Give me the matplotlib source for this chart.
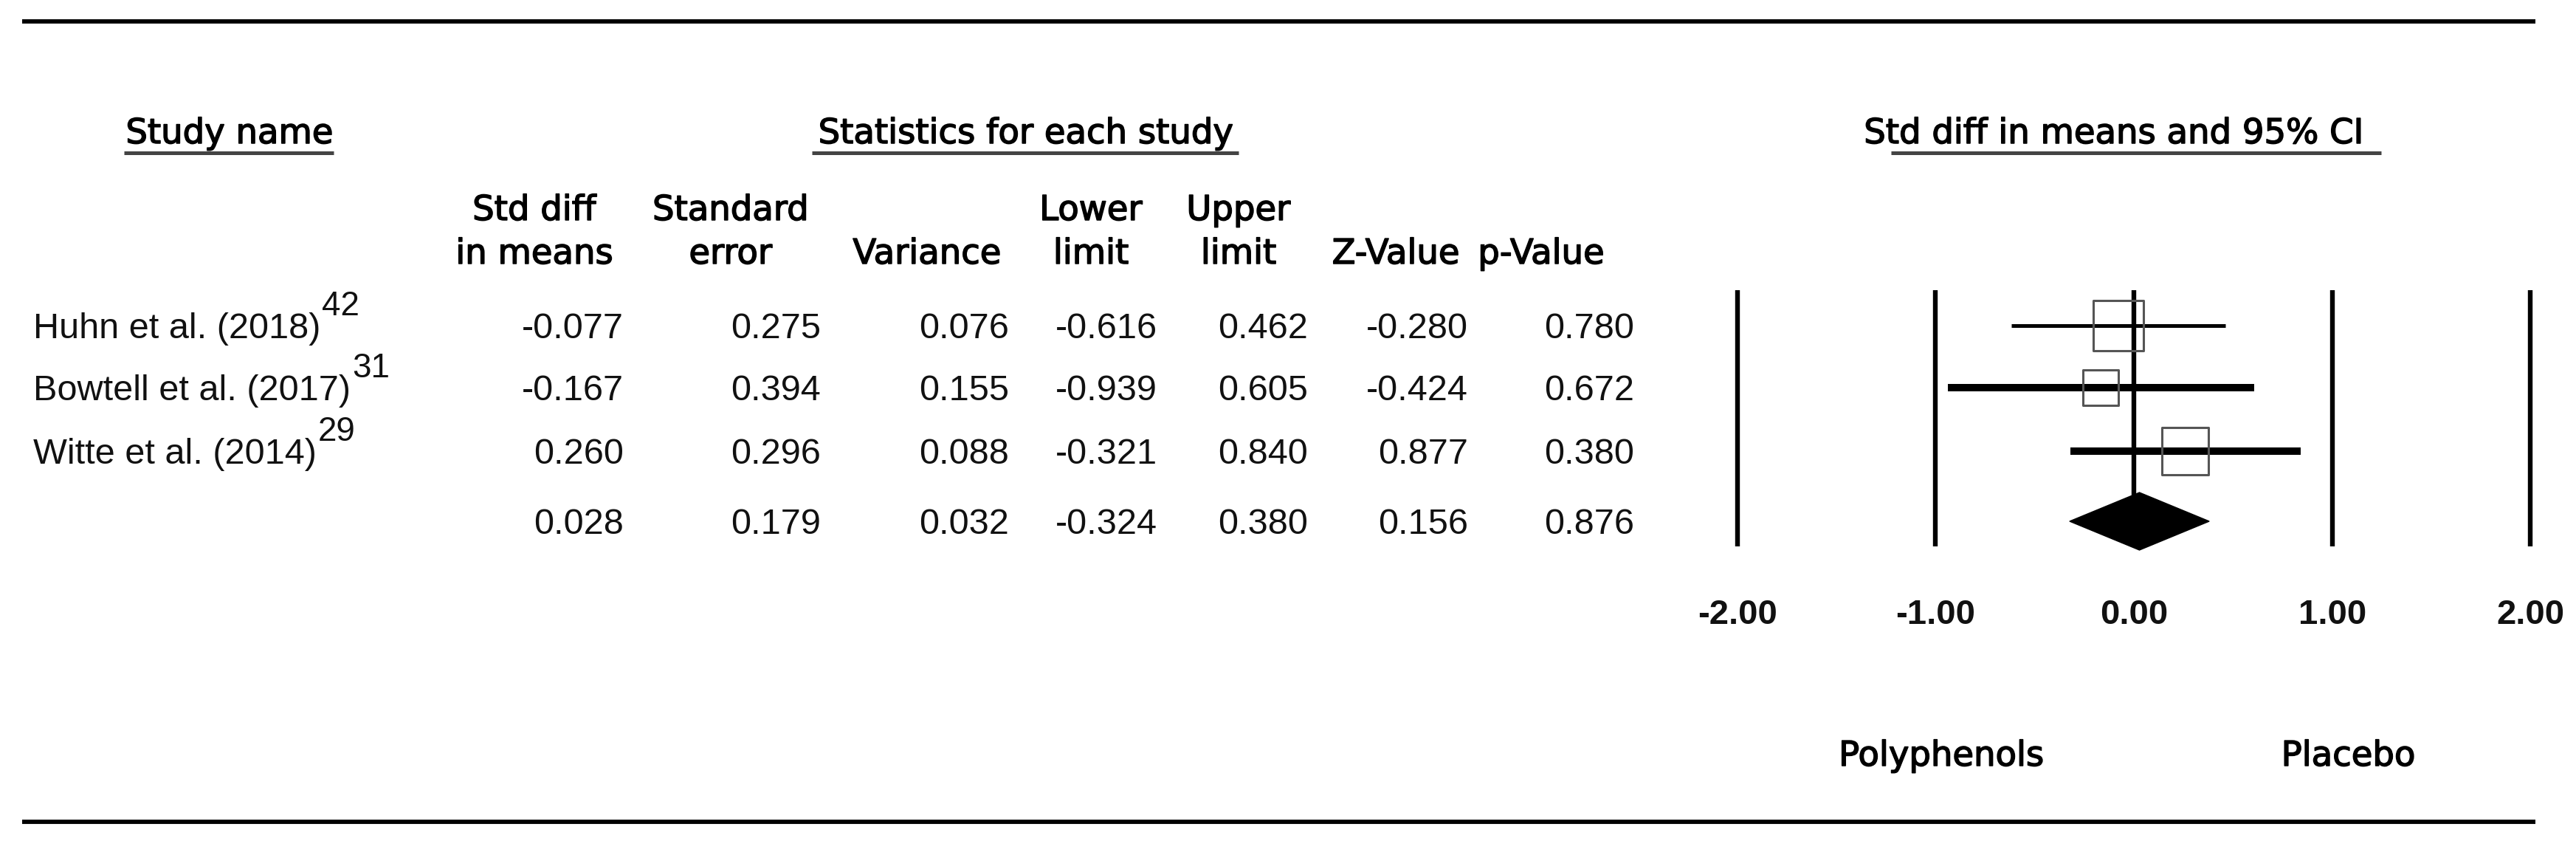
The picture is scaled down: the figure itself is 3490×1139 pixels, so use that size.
import matplotlib
matplotlib.use("Agg")
import matplotlib.pyplot as plt
import matplotlib.patheffects as pe
import numpy as np
from matplotlib.patches import Polygon

# ---------------- data ----------------
studies = ["Huhn et al. (2018)", "Bowtell et al. (2017)", "Witte et al. (2014)"]
refs = ["42", "31", "29"]
std_diff = [-0.077, -0.167, 0.260]
std_err = [0.275, 0.394, 0.296]
variance = [0.076, 0.155, 0.088]
lower = [-0.616, -0.939, -0.321]
upper = [0.462, 0.605, 0.840]
z_value = [-0.280, -0.424, 0.877]
p_value = [0.780, 0.672, 0.380]

pooled_std_diff = 0.028
pooled_se = 0.179
pooled_var = 0.032
pooled_lower = -0.324
pooled_upper = 0.380
pooled_z = 0.156
pooled_p = 0.876

x_ticks = [-2.0, -1.0, 0.0, 1.0, 2.0]
col_headers = [("Std diff", "in means"), ("Standard", "error"), ("", "Variance"),
               ("Lower", "limit"), ("Upper", "limit"), ("", "Z-Value"), ("", "p-Value")]
left_label = "Polyphenols"
right_label = "Placebo"

# ---------------- layout (pixel space) ----------------
W, H = 3490, 1139
fig = plt.figure(figsize=(W / 100, H / 100), dpi=100)
fig.patch.set_facecolor("white")

lay = fig.add_axes([0, 0, 1, 1])
lay.set_xlim(0, W)
lay.set_ylim(H, 0)
lay.axis("off")

HEAD_FONT = ["DejaVu Sans"]
VAL_FONT = ["Liberation Sans", "DejaVu Sans"]
hs = 33.5
vs = 35
heavy = [pe.withStroke(linewidth=1.1, foreground="black")]

row_y = [441, 525, 611, 706]          # visual centres of rows
cap = 17                               # half digit height
col_right = [845, 1112, 1367, 1568, 1772, 1989, 2214]
col_center = [724, 990, 1256, 1478, 1678, 1891, 2088]


def head(x, y, s, **kw):
    return lay.text(x, y, s, fontsize=hs, family=HEAD_FONT, va="baseline",
                    path_effects=heavy, **kw)


# rules
lay.plot([30, 3435], [29, 29], color="black", lw=4.2, solid_capstyle="butt")
lay.plot([30, 3435], [1113, 1113], color="black", lw=4.2, solid_capstyle="butt")

# section headers with underlines
head(311, 194, "Study name", ha="center")
lay.plot([168, 452], [207, 207], color="#444444", lw=3.6, solid_capstyle="butt")
head(1390, 194, "Statistics for each study", ha="center")
lay.plot([1100, 1678], [207, 207], color="#444444", lw=3.6, solid_capstyle="butt")
head(2864, 194, "Std diff in means and 95% CI", ha="center")
lay.plot([2562, 3226], [207, 207], color="#444444", lw=3.6, solid_capstyle="butt")

# column headers
for (l1, l2), cx in zip(col_headers, col_center):
    if l1:
        head(cx, 298, l1, ha="center")
    head(cx, 357, l2, ha="center")

# study rows
for i, name in enumerate(studies):
    base = row_y[i] + cap
    t = lay.text(45, base, name, fontsize=vs, family=VAL_FONT, ha="left", va="baseline", color="#111111")
    lay.annotate(refs[i], xy=(1.0, base - 31), xycoords=(t, "data"),
                 xytext=(2, 0), textcoords="offset pixels",
                 fontsize=33, family=VAL_FONT, ha="left", va="baseline", color="#111111")
    vals = [std_diff[i], std_err[i], variance[i], lower[i], upper[i], z_value[i], p_value[i]]
    for v, rx in zip(vals, col_right):
        lay.text(rx, base, f"{v:.3f}", fontsize=vs, family=VAL_FONT, ha="right", va="baseline", color="#111111")

# pooled row
pooled_vals = [pooled_std_diff, pooled_se, pooled_var, pooled_lower, pooled_upper, pooled_z, pooled_p]
for v, rx in zip(pooled_vals, col_right):
    lay.text(rx, row_y[3] + cap, f"{v:.3f}", fontsize=vs, family=VAL_FONT, ha="right", va="baseline", color="#111111")

# ---------------- forest plot ----------------
x0_px, unit_px = 2891, 268.7
ax_left, ax_w = 2300, 1190
fax = fig.add_axes([ax_left / W, 0, ax_w / W, 1])
fax.set_xlim((ax_left - x0_px) / unit_px, (ax_left + ax_w - x0_px) / unit_px)
fax.set_ylim(H, 0)
fax.axis("off")
fax.patch.set_alpha(0)

fax.vlines(x_ticks, 393, 740, color="black", lw=4.6, zorder=1)

ci_lw = [3.6, 7.2, 7.2]
w = 1.0 / np.array(variance)
side_pt = 49 * np.sqrt(w / w.max())
for i in range(len(studies)):
    fax.plot([lower[i], upper[i]], [row_y[i], row_y[i]], color="black", lw=ci_lw[i],
             solid_capstyle="butt", zorder=2)
    fax.scatter([std_diff[i]], [row_y[i]], marker="s", s=side_pt[i] ** 2,
                facecolors="none", edgecolors="#555555", linewidths=2.2, zorder=3)

dh = 39
diamond = Polygon([[pooled_lower, row_y[3]], [pooled_std_diff, row_y[3] - dh],
                   [pooled_upper, row_y[3]], [pooled_std_diff, row_y[3] + dh]],
                  closed=True, facecolor="black", edgecolor="black", lw=1, zorder=4)
fax.add_patch(diamond)

for xt in x_ticks:
    fax.text(xt, 845, f"{xt:.2f}", fontsize=34, family=VAL_FONT, fontweight="bold",
             ha="center", va="baseline", color="#111111")

fax.text(-1.0 + (2632 - 2624) / unit_px, 1037, left_label, fontsize=hs, family=HEAD_FONT,
         ha="center", va="baseline", path_effects=heavy)
fax.text(1.0 + (3180 - 3158) / unit_px, 1037, right_label, fontsize=hs, family=HEAD_FONT,
         ha="center", va="baseline", path_effects=heavy)

fig.savefig("out.png", dpi=100, facecolor="white")
